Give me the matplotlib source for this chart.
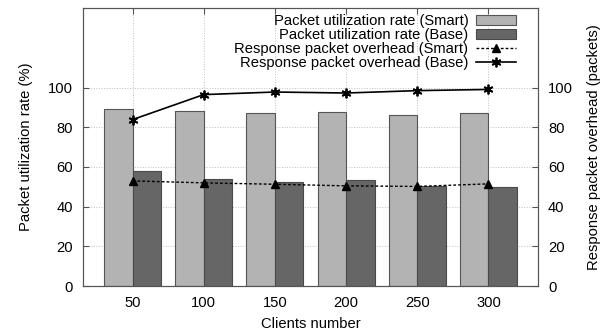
import matplotlib
matplotlib.use('Agg')
from matplotlib import pyplot as plt
import numpy as np

clients = [50, 100, 150, 200, 250, 300]
util_smart = [89.2, 88.1, 87.4, 87.7, 86.4, 87.2]
util_base = [58.0, 53.7, 52.2, 53.3, 50.3, 50.0]
overhead_smart = [53.0, 52.0, 51.3, 50.5, 50.2, 51.5]
overhead_base = [83.9, 96.5, 97.8, 97.3, 98.5, 99.1]
yticks = [0, 20, 40, 60, 80, 100]

plt.rcParams['font.family'] = ['Liberation Sans', 'DejaVu Sans']
plt.rcParams['font.size'] = 10.6

fig = plt.figure(figsize=(6.09, 3.30), dpi=100)
ax = fig.add_axes([0.1358, 0.1333, 0.7481, 0.8415])

x = np.array(clients)
bw = 20
b1 = ax.bar(x - bw / 2, util_smart, bw, color='#b3b3b3', edgecolor='#555555',
            linewidth=0.8, label='Packet utilization rate (Smart)', zorder=2)
b2 = ax.bar(x + bw / 2, util_base, bw, color='#666666', edgecolor='#4a4a4a',
            linewidth=0.8, label='Packet utilization rate (Base)', zorder=2)

ax.set_xlim(15, 335)
ax.set_ylim(0, 140)
ax.set_xticks(clients)
ax.set_yticks(yticks)
ax.grid(True, color='#c0c0c0', linestyle=':', linewidth=0.7, zorder=0)
ax.set_axisbelow(True)
ax.tick_params(direction='in', top=True, length=4, color='#555555', pad=7)
for s in ax.spines.values():
    s.set_color('#555555')
ax.set_xlabel('Clients number', labelpad=5)
ax.set_ylabel('Packet utilization rate (%)', labelpad=11)

ax2 = ax.twinx()
ax2.set_ylim(0, 140)
ax2.set_yticks(yticks)
ax2.tick_params(direction='in', length=4, color='#555555', pad=7)
l1, = ax2.plot(x, overhead_smart, color='black', linestyle=(0, (2, 1.5)),
               linewidth=1.0, marker='^', markersize=5.5,
               label='Response packet overhead (Smart)')
l2, = ax2.plot(x, overhead_base, color='black', linestyle='-', linewidth=1.2,
               marker=(6, 2, 0), markersize=7, markeredgewidth=1.3,
               label='Response packet overhead (Base)')
ax2.set_ylabel('Response packet overhead (packets)', labelpad=10)
for s in ax2.spines.values():
    s.set_color('#555555')

handles = [b1, b2, l1, l2]
ax2.legend(handles, [h.get_label() for h in handles],
           loc='upper right', frameon=False, markerfirst=False,
           handlelength=2.7, handleheight=0.6, handletextpad=0.5,
           labelspacing=0.0, borderaxespad=0.0,
           bbox_to_anchor=(0.963, 1.0))

fig.savefig('out.png', dpi=100)
